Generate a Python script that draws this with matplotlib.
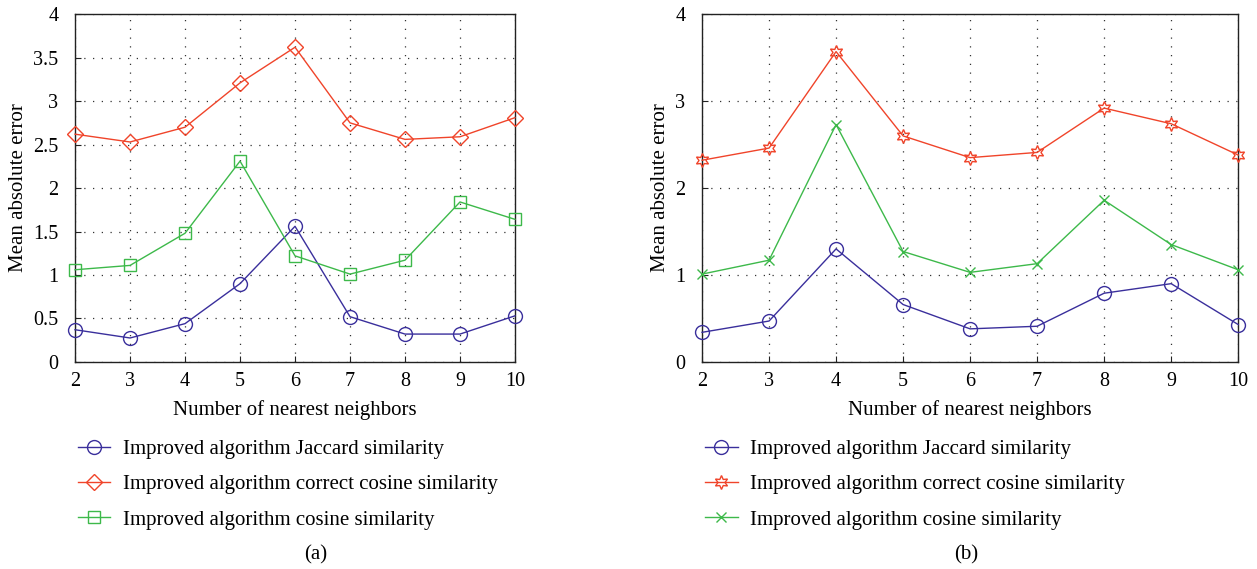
import matplotlib.pyplot as plt
from matplotlib.lines import Line2D

plt.rcParams['font.family'] = ['Liberation Serif', 'DejaVu Serif']

neighbors = [2, 3, 4, 5, 6, 7, 8, 9, 10]

# panel (a)
a_jaccard = [0.37, 0.275, 0.44, 0.90, 1.56, 0.52, 0.32, 0.32, 0.53]
a_correct_cos = [2.62, 2.53, 2.70, 3.21, 3.62, 2.75, 2.56, 2.59, 2.81]
a_cosine = [1.06, 1.11, 1.48, 2.31, 1.22, 1.01, 1.17, 1.84, 1.64]

# panel (b)
b_jaccard = [0.34, 0.47, 1.30, 0.66, 0.38, 0.41, 0.79, 0.90, 0.43]
b_correct_cos = [2.32, 2.46, 3.57, 2.60, 2.35, 2.41, 2.92, 2.74, 2.38]
b_cosine = [1.01, 1.17, 2.73, 1.27, 1.03, 1.13, 1.86, 1.35, 1.06]

labels = ["Improved algorithm Jaccard similarity",
          "Improved algorithm correct cosine similarity",
          "Improved algorithm cosine similarity"]

blue = '#3a2f9c'
red = '#f0442a'
green = '#3db94a'
star6 = (6, 1, 0)

mk_a = ['o', 'D', 's']
ms_a = [10, 8.5, 8]
mk_b = ['o', star6, 'x']
ms_b = [10, 10, 7]

fig = plt.figure(figsize=(12.57, 5.69), dpi=100)
ax1 = fig.add_axes([0.0597, 0.364, 0.350, 0.611])
ax2 = fig.add_axes([0.5585, 0.364, 0.4265, 0.611])


def draw(ax, series, markers, sizes, yticks, yticklabels):
    for vals, col, mk, ms in zip(series, [blue, red, green], markers, sizes):
        ax.plot(neighbors, vals, color=col, lw=1.0, marker=mk, ms=ms,
                mfc='none', mec=col, mew=1.0, clip_on=False, zorder=3)
    ax.set_xlim(2, 10)
    ax.set_ylim(0, 4)
    ax.set_xticks(neighbors)
    ax.set_yticks(yticks)
    ax.set_yticklabels(yticklabels)
    ax.grid(True, linestyle=(0, (1, 6)), color='#333333', lw=0.9)
    ax.tick_params(axis='y', direction='in', labelsize=14.5, length=4,
                   color='#222222', pad=12)
    ax.tick_params(axis='x', direction='in', labelsize=14.5, length=4,
                   color='#222222', pad=7)
    for s in ax.spines.values():
        s.set_linewidth(1.0)
        s.set_color('#222222')
    ax.set_xlabel("Number of nearest neighbors", fontsize=15, labelpad=7)
    ax.set_ylabel("Mean absolute error", fontsize=15, labelpad=4)


draw(ax1, [a_jaccard, a_correct_cos, a_cosine], mk_a, ms_a,
     [0, 0.5, 1, 1.5, 2, 2.5, 3, 3.5, 4],
     ['0', '0.5', '1', '1.5', '2', '2.5', '3', '3.5', '4'])
draw(ax2, [b_jaccard, b_correct_cos, b_cosine], mk_b, ms_b,
     [0, 1, 2, 3, 4], ['0', '1', '2', '3', '4'])

for markers, sizes, lx, tag, tx in [
        (mk_a, ms_a, 0.0555, '(a)', 0.251),
        (mk_b, ms_b, 0.5545, '(b)', 0.769)]:
    handles = [Line2D([], [], color=c, lw=1.0, marker=m, ms=s, mfc='none', mec=c)
               for c, m, s in zip([blue, red, green], markers, sizes)]
    fig.legend(handles, labels, loc='upper left', bbox_to_anchor=(lx, 0.242),
               frameon=False, fontsize=15, handlelength=1.55, handletextpad=0.6,
               labelspacing=0.75, borderaxespad=0)
    fig.text(tx, 0.025, tag, fontsize=15, ha='center', va='center')

fig.savefig('out.png', dpi=100)
